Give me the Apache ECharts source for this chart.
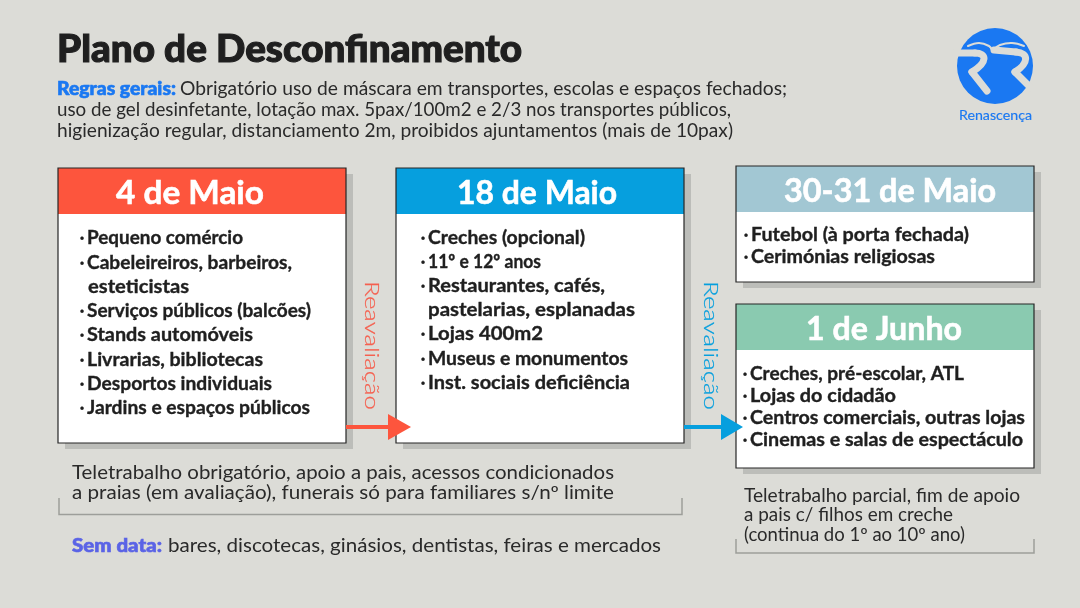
<!DOCTYPE html>
<html><head><meta charset="utf-8">
<style>html,body{margin:0;padding:0;background:#dcdcd7}#c{width:1080px;height:608px}</style>
<script src="https://cdn.jsdelivr.net/npm/echarts@6/dist/echarts.min.js"></script>
</head><body><div id="c"></div>
<script>
const titleText = 'Plano de Desconfinamento';
const rulesLabel = 'Regras gerais:';
const rulesLines = [
  'Obrigatório uso de máscara em transportes, escolas e espaços fechados;',
  'uso de gel desinfetante, lotação max. 5pax/100m2 e 2/3 nos transportes públicos,',
  'higienização regular, distanciamento 2m, proibidos ajuntamentos (mais de 10pax)'
];
const cardDates = ['4 de Maio', '18 de Maio', '30-31 de Maio', '1 de Junho'];
const card1Items = ['Pequeno comércio', 'Cabeleireiros, barbeiros,', 'esteticistas', 'Serviços públicos (balcões)', 'Stands automóveis', 'Livrarias, bibliotecas', 'Desportos individuais', 'Jardins e espaços públicos'];
const card2Items = ['Creches (opcional)', '11º e 12º anos', 'Restaurantes, cafés,', 'pastelarias, esplanadas', 'Lojas 400m2', 'Museus e monumentos', 'Inst. sociais deficiência'];
const card3Items = ['Futebol (à porta fechada)', 'Cerimónias religiosas'];
const card4Items = ['Creches, pré-escolar, ATL', 'Lojas do cidadão', 'Centros comerciais, outras lojas', 'Cinemas e salas de espectáculo'];
const noLine = ['esteticistas', 'pastelarias, esplanadas'];
const reavaliacao = 'Reavaliação';
const noteLeft = ['Teletrabalho obrigatório, apoio a pais, acessos condicionados', 'a praias (em avaliação), funerais só para familiares s/nº limite'];
const noteRight = ['Teletrabalho parcial, fim de apoio', 'a pais c/ filhos em creche', '(continua do 1º ao 10º ano)'];
const semLabel = 'Sem data:';
const semText = 'bares, discotecas, ginásios, dentistas, feiras e mercados';
const logoText = 'Renascença';

const C = {bg:'#dcdcd7', ink:'#1f1f1f', body:'#2a2a2a', shadow:'#bcbdb9', border:'#262626', red:'#fd553d', blue:'#069fde', sky:'#a2c7d3', green:'#8acab0', brand:'#1a78f2', sem:'#5a63e6', rule:'#9d9e9a'};
const FF = 'Lato, "Noto Sans", sans-serif';
const ctx = document.createElement('canvas').getContext('2d');
const els = [];

function T(text, x, y, w, font, fill, opt) {
  opt = opt || {};
  ctx.font = font;
  const natural = ctx.measureText(text).width;
  const s = w ? w / natural : 1;
  const el = {type:'text', x, y: opt.rot ? y : y + 0.8, z:20, originX:0, originY:0, scaleX:s, scaleY:1,
    style:{text, x:0, y:0, font, fill, textAlign:'left', textVerticalAlign:'middle'}};
  if (opt.bold) { el.style.stroke = fill; el.style.lineWidth = opt.bold; }
  if (opt.rot) el.rotation = opt.rot;
  els.push(el);
}
function R(x, y, w, h, fill, stroke, z) {
  els.push({type:'rect', z:z||5, shape:{x, y, width:w, height:h},
    style:{fill, stroke:stroke||null, lineWidth:stroke?1.2:0}});
}
function card(x, y, w, h, hh, color) {
  R(x+7, y+6, w, h, C.shadow, null, 2);
  R(x, y, w, h, '#ffffff', null, 5);
  R(x, y, w, hh, color, null, 6);
  R(x, y, w, h, 'transparent', C.border, 7);
}
function items(list, textX, ys, widths) {
  const f = '700 18.5px ' + FF;
  list.forEach((t, i) => {
    const cont = noLine.includes(t);
    if (!cont) T('·', textX-7.5, ys[i], 0, f, C.ink);
    T(t, textX + (t === 'esteticistas' ? 1 : 0), ys[i]+0.5, widths[i], f, C.ink, {bold:0.35});
  });
}
function bracket(x0, x1, y0, y1) {
  els.push({type:'polyline', z:3, shape:{points:[[x0,y0],[x0,y1],[x1,y1],[x1,y0]]},
    style:{fill:null, stroke:C.rule, lineWidth:1.5}});
}
function arrow(x0, tipStart, tipEnd, y, color) {
  els.push({type:'line', z:30, shape:{x1:x0, y1:y, x2:tipStart+2, y2:y}, style:{stroke:color, lineWidth:4}});
  els.push({type:'polygon', z:30, shape:{points:[[tipStart,y-13],[tipEnd,y],[tipStart,y+13]]}, style:{fill:color}});
}
function gap(points, width, smooth) {
  els.push({type:'polyline', z:11, shape:{points, smooth:smooth||0},
    style:{fill:null, stroke:C.bg, lineWidth:width, lineCap:'round', lineJoin:'round'}});
}

// heading and rules
T(titleText, 57, 49.5, 465, '900 37px ' + FF, C.ink, {bold:1.1});
const body = '400 18.5px ' + FF;
T(rulesLabel, 57, 88.5, 119, '900 18.5px ' + FF, C.brand, {bold:0.6});
T(rulesLines[0], 180, 88.5, 607, body, C.body);
T(rulesLines[1], 57, 109.5, 674, body, C.body);
T(rulesLines[2], 57, 130.5, 676, body, C.body);

// cards
card(58, 168, 288, 275, 46, C.red);
card(396, 168, 288, 275, 46, C.blue);
card(736, 166, 298, 116, 46, C.sky);
card(736, 304, 298, 164, 46, C.green);
const head = '700 33px ' + FF;
T(cardDates[0], 116, 192.5, 148, head, '#fff', {bold:0.6});
T(cardDates[1], 457, 192.5, 160, head, '#fff', {bold:0.6});
T(cardDates[2], 784, 190.5, 212, head, '#fff', {bold:0.6});
T(cardDates[3], 806, 328.5, 156, head, '#fff', {bold:0.6});

items(card1Items, 87, [237,262,286,310,334,359,383,407], [156,205,101,224,166,176,185,223]);
items(card2Items, 428, [237,261,285,309,333,358,382], [157,113,177,207,115,200,202]);
items(card3Items, 751, [234,256], [218,184]);
items(card4Items, 750, [373,395,417,439], [214,146,275,273]);

// transitions
const rv = '300 20px ' + FF;
T(reavaliacao, 371, 281, 129, rv, '#f5604f', {rot:-Math.PI/2, bold:0.2});
T(reavaliacao, 710, 281, 129, rv, C.blue, {rot:-Math.PI/2, bold:0.2});
arrow(346, 388, 411, 427, C.red);
arrow(684, 721, 743, 427, C.blue);

// notes
T(noteLeft[0], 72, 472.5, 542, body, C.body);
T(noteLeft[1], 72, 492.5, 542, body, C.body);
bracket(59, 682, 498, 514.5);
T(semLabel, 72, 545.5, 90, '900 18.5px ' + FF, C.sem, {bold:0.6});
T(semText, 168, 545.5, 493, body, C.body);
T(noteRight[0], 744, 495.5, 276, body, C.body);
T(noteRight[1], 744, 514.5, 209, body, C.body);
T(noteRight[2], 744, 534.5, 221, body, C.body);
bracket(736, 1034, 539, 553);

// logo
els.push({type:'circle', z:10, shape:{cx:995, cy:66, r:38}, style:{fill:C.brand}});
gap([[955,53],[975,53]], 7);
els.push({type:'bezierCurve', z:11, shape:{x1:975, y1:53, cpx1:987, cpy1:53, cpx2:988, cpy2:62, x2:972, y2:72},
  style:{fill:null, stroke:C.bg, lineWidth:7, lineCap:'round'}});
gap([[972,72],[987,91]], 7);
gap([[968,46],[979,43],[989,46],[992,50]], 2, 0.4);
gap([[993,50],[1000,45],[1012,43],[1024,46]], 2, 0.4);
gap([[994,50],[1016,52]], 7);
els.push({type:'bezierCurve', z:11, shape:{x1:1016, y1:52, cpx1:1029, cpy1:53, cpx2:1029, cpy2:63, x2:1015, y2:72},
  style:{fill:null, stroke:C.bg, lineWidth:7, lineCap:'round'}});
gap([[1015,72],[1031,88]], 7);
T(logoText, 959, 115, 73, '400 12.5px ' + FF, C.brand, {bold:0.15});

const chart = echarts.init(document.getElementById('c'), null, {renderer:'canvas', width:1080, height:608});
chart.setOption({backgroundColor:C.bg, animation:false, graphic:{elements:els}});
</script>
</body></html>
